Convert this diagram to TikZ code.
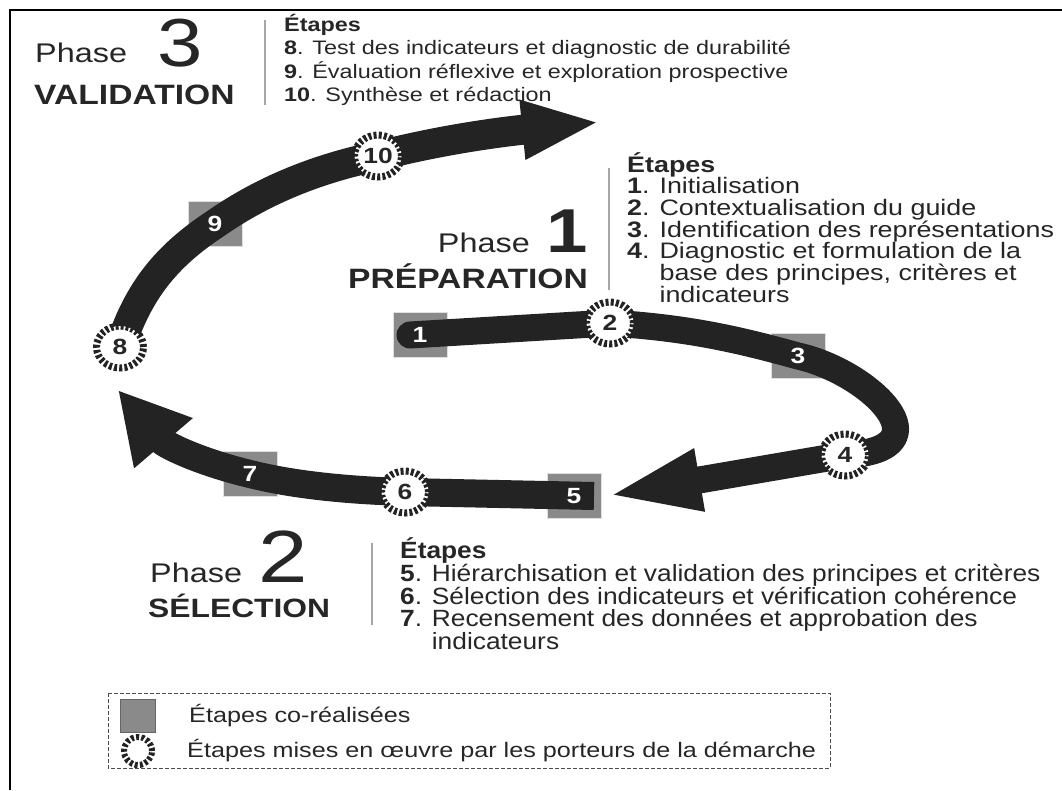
\documentclass[tikz,border=0pt]{standalone}
\usepackage{fontspec}
\setmainfont{Liberation Sans}[FakeStretch=1.2]
\newfontfamily\narrowsans{Liberation Sans}[FakeStretch=1.12]
\usepackage{tikz}
\usetikzlibrary{arrows.meta,positioning,shapes.geometric}
\definecolor{bandblack}{RGB}{35,35,35}
\definecolor{stepgray}{RGB}{138,138,138}
\definecolor{inkgray}{RGB}{38,38,38}
\pgfdeclarelayer{squarelayer}
\pgfdeclarelayer{bandlayer}
\pgfsetlayers{squarelayer,bandlayer,main}
\newcommand{\fsz}[2]{\fontsize{#1}{#2}\selectfont}

\begin{document}
\begin{tikzpicture}[x=1pt, y=-1pt, every node/.style={text=inkgray, inner sep=0pt},
    band/.style={draw=bandblack, line width=30pt, line join=round},
    cosquare/.style={rectangle, fill=stepgray, draw=gray!25, line width=1pt, minimum width=54pt, minimum height=45pt},
    porteur/.style={ellipse, fill=white, draw=bandblack, line width=7pt, dash pattern=on 3pt off 2.2pt,
      minimum width=47pt, minimum height=42pt, font=\bfseries\fsz{22}{22}},
    stepnum/.style={text=white, font=\bfseries\fsz{22}{22}},
    phaseword/.style={font=\fsz{27}{27}},
    phasenum/.style={font=\fsz{68}{68}},
    phasename/.style={font=\bfseries\fsz{28}{28}},
    etapes/.style={align=left, anchor=north west},
    sepline/.style={draw=gray!70, line width=1.5pt}]
  \useasboundingbox (0,0) rectangle (1062,790);
  \draw[line width=2.5pt, black] (10,790) -- (10,10) -- (1062,10);

  % co-realised steps (grey squares, under the band)
  \begin{pgfonlayer}{squarelayer}
    \foreach \n/\x/\y in {1/420/335, 3/798/356, 5/574/496, 7/250/474, 9/215/224}
      \node[cosquare] (s\n) at (\x,\y) {};
  \end{pgfonlayer}

  % steps run by the leaders
  \foreach \n/\x/\y in {2/610/323, 4/845/455, 6/405/492, 8/120/347, 10/378/156}
    \node[porteur] (s\n) at (\x,\y) {\n};
  \foreach \n in {1,3,5,7,9}
    \node[stepnum] (n\n) at (s\n) {\n};

  \coordinate (tip4) at (606,496);
  \coordinate (tip7) at (118,390);
  \coordinate (tip10) at (600,122);

  % the three bands
  \begin{pgfonlayer}{bandlayer}
    \draw[band, line width=27pt, line cap=round, -{Triangle[length=95pt,width=56pt]}]
      ([xshift=-10pt]s1.center) -- (s2.center)
      .. controls (690,328) and (740,340) .. (s3.center)
      .. controls (870,372) and (950,450) .. (s4.center) -- (tip4);
    \draw[band, line width=28pt, -{Triangle[length=70pt,width=72pt]}]
      ([xshift=20pt]s5.center) -- (s6.center)
      .. controls (340,490) and (290,484) .. (s7.center)
      .. controls (200,462) and (165,445) .. (tip7);
    \draw[band, -{Triangle[length=78pt,width=54pt]}]
      (s8.center) .. controls (138,292) and (165,257) .. (s9.center)
      .. controls (265,189) and (320,168) .. (s10.center)
      .. controls (440,140) and (500,132) .. (tip10);
  \end{pgfonlayer}

  % phase 3
  \node[phaseword, anchor=base west] (p3word) at (35,62) {Phase};
  \node[phasenum, anchor=base west] (p3num) at (157,66) {3};
  \node[phasename, anchor=base west] (p3name) at (34,104) {VALIDATION};
  \draw[sepline] (265,20) -- (265,105);
  \node[etapes, font=\fsz{19.5}{23.5}] (et3) at (284,14) {\textbf{Étapes}\\
    \textbf{8}. Test des indicateurs et diagnostic de durabilité\\
    \textbf{9}. Évaluation réflexive et exploration prospective\\
    \textbf{10}. Synthèse et rédaction};

  % phase 1
  \node[phasenum, font=\bfseries\fsz{62}{62}, anchor=base east] (p1num) at (588,252) {1};
  \node[phaseword, anchor=base east] (p1word) at (530,252) {Phase};
  \node[phasename, anchor=base east] (p1name) at (588,288) {PRÉPARATION};
  \draw[sepline] (609,168) -- (609,290);
  \node[etapes, font=\fsz{22.4}{21.7}] (et1) at (627,152) {\textbf{Étapes}\\
    \textbf{1}. Initialisation\\
    \textbf{2}. Contextualisation du guide\\
    \textbf{3}. Identification des représentations\\
    \textbf{4}. Diagnostic et formulation de la\\
    \hphantom{\textbf{4}. }base des principes, critères et\\
    \hphantom{\textbf{4}. }indicateurs};

  % phase 2
  \node[phaseword, anchor=base west] (p2word) at (150,582) {Phase};
  \node[phasenum, font=\fsz{74}{74}, base right=16pt of p2word] (p2num) {2};
  \node[phasename, font=\bfseries\fsz{26.5}{26.5}, anchor=base west] (p2name) at (148,617) {SÉLECTION};
  \draw[sepline] (372,543) -- (372,625);
  \node[etapes, font=\narrowsans\fsz{23.5}{21.8}] (et2) at (400,537) {\textbf{Étapes}\\
    \textbf{5}. Hiérarchisation et validation des principes et critères\\
    \textbf{6}. Sélection des indicateurs et vérification cohérence\\
    \textbf{7}. Recensement des données et approbation des\\
    \hphantom{\textbf{7}. }indicateurs};

  % legend
  \draw[draw=black!70, line width=1pt, dash pattern=on 4pt off 2pt] (108,693) rectangle (830,768);
  \node[cosquare, minimum width=35pt, minimum height=33pt, draw=black!60] (legsq) at (138,716) {};
  \node[porteur, minimum width=28pt, minimum height=28pt, line width=6pt] (legcirc) at (138,751) {};
  \node[anchor=west, font=\fsz{21}{21}, right=33pt of legsq] (legtxt1) {Étapes co-réalisées};
  \node[anchor=west, font=\fsz{21}{21}, right=32pt of legcirc] (legtxt2) {Étapes mises en œuvre par les porteurs de la démarche};
\end{tikzpicture}
\end{document}
